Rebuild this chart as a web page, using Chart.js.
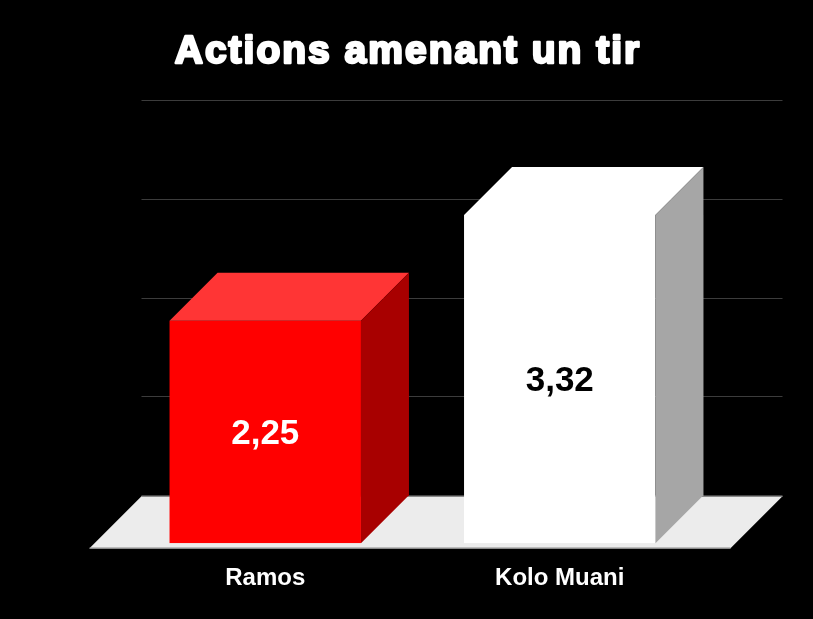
<!DOCTYPE html>
<html>
<head>
<meta charset="utf-8">
<script src="https://cdn.jsdelivr.net/npm/chart.js@4.4.0/dist/chart.umd.min.js"></script>
<style>
  html, body { margin: 0; padding: 0; background: #000; }
  #wrap { width: 813px; height: 619px; }
</style>
</head>
<body>
<div id="wrap"><canvas id="chart"></canvas></div>
<script>
const players = ["Ramos", "Kolo Muani"];
const shotActions = [2.25, 3.32];
const displayLabels = ["2,25", "3,32"];
const gridValues = [0, 1, 2, 3, 4];
const titleText = "Actions amenant un tir";

// colours per bar: front, top, side, label
const frontColors = ["#ff0000", "#ffffff"];
const topColors = ["#ff3535", "#ffffff"];
const sideColors = ["#a80000", "#a6a6a6"];
const labelColors = ["#ffffff", "#000000"];

const DEPTH = 48;

// --- draw back wall gridlines and the floor under the bars ---
const backdrop = {
  id: "backdrop",
  beforeDatasetsDraw(chart) {
    const { ctx, chartArea, scales } = chart;
    const y = scales.y;
    const base = y.getPixelForValue(0);
    const left = chartArea.left, right = chartArea.right;

    ctx.save();
    ctx.strokeStyle = "#3c3c3c";
    ctx.lineWidth = 1;
    gridValues.forEach((v) => {
      if (v === 0) return;
      const yy = Math.round(y.getPixelForValue(v) - 48) + 0.5;
      ctx.beginPath();
      ctx.moveTo(left + 23.5, yy);
      ctx.lineTo(right + 75.5, yy);
      ctx.stroke();
    });

    // floor
    const fy = base + 5, by = base - 47;
    ctx.fillStyle = "#ececec";
    ctx.beginPath();
    ctx.moveTo(left - 28.5, fy);
    ctx.lineTo(left + 23.5, by);
    ctx.lineTo(right + 75.5, by);
    ctx.lineTo(right + 23.5, fy);
    ctx.closePath();
    ctx.fill();
    ctx.strokeStyle = "#8a8a8a";
    ctx.lineWidth = 1.5;
    ctx.beginPath();
    ctx.moveTo(left + 23.5, by);
    ctx.lineTo(right + 75.5, by);
    ctx.moveTo(left - 28.5, fy);
    ctx.lineTo(right + 23.5, fy);
    ctx.stroke();
    ctx.restore();
  },
  afterDatasetsDraw(chart) {
    const { ctx } = chart;
    const meta = chart.getDatasetMeta(0);
    ctx.save();
    meta.data.forEach((bar, i) => {
      const l = bar.x - bar.width / 2, r = bar.x + bar.width / 2;
      const t = bar.y, b = bar.base;
      // top face
      ctx.fillStyle = topColors[i];
      ctx.beginPath();
      ctx.moveTo(l, t);
      ctx.lineTo(l + DEPTH, t - DEPTH);
      ctx.lineTo(r + DEPTH, t - DEPTH);
      ctx.lineTo(r, t);
      ctx.closePath();
      ctx.fill();
      // side face
      ctx.fillStyle = sideColors[i];
      ctx.beginPath();
      ctx.moveTo(r, t);
      ctx.lineTo(r + DEPTH, t - DEPTH);
      ctx.lineTo(r + DEPTH, b - DEPTH);
      ctx.lineTo(r, b);
      ctx.closePath();
      ctx.fill();
      // value label
      ctx.fillStyle = labelColors[i];
      ctx.font = "bold 35px 'Liberation Sans', Arial, sans-serif";
      ctx.textAlign = "center";
      ctx.textBaseline = "middle";
      ctx.fillText(displayLabels[i], bar.x, (t + b) / 2 + 2);
    });
    ctx.restore();
  },
  afterDraw(chart) {
    const { ctx } = chart;
    ctx.save();
    ctx.font = "bold 39px 'Liberation Sans', Arial, sans-serif";
    ctx.letterSpacing = "2px";
    ctx.textAlign = "center";
    ctx.textBaseline = "alphabetic";
    ctx.fillStyle = "#ffffff";
    ctx.strokeStyle = "#ffffff";
    ctx.lineWidth = 2.5;
    ctx.lineJoin = "round";
    ctx.strokeText(titleText, 408, 63);
    ctx.fillText(titleText, 408, 63);
    ctx.restore();
  }
};

new Chart(document.getElementById("chart"), {
  type: "bar",
  data: {
    labels: players,
    datasets: [{
      data: shotActions,
      backgroundColor: frontColors,
      borderWidth: 0,
      categoryPercentage: 1,
      barPercentage: 0.65
    }]
  },
  options: {
    responsive: true,
    maintainAspectRatio: false,
    animation: false,
    layout: { padding: { top: 51, left: 118, right: 106, bottom: 5 } },
    plugins: { legend: { display: false }, tooltip: { enabled: false } },
    scales: {
      y: { display: false, min: 0, max: 4.98 },
      x: {
        grid: { display: false, drawTicks: false },
        border: { display: false },
        ticks: {
          color: "#ffffff",
          padding: 21,
          font: { family: "'Liberation Sans', Arial, sans-serif", size: 24, weight: "bold" }
        }
      }
    }
  },
  plugins: [backdrop]
});
</script>
</body>
</html>
